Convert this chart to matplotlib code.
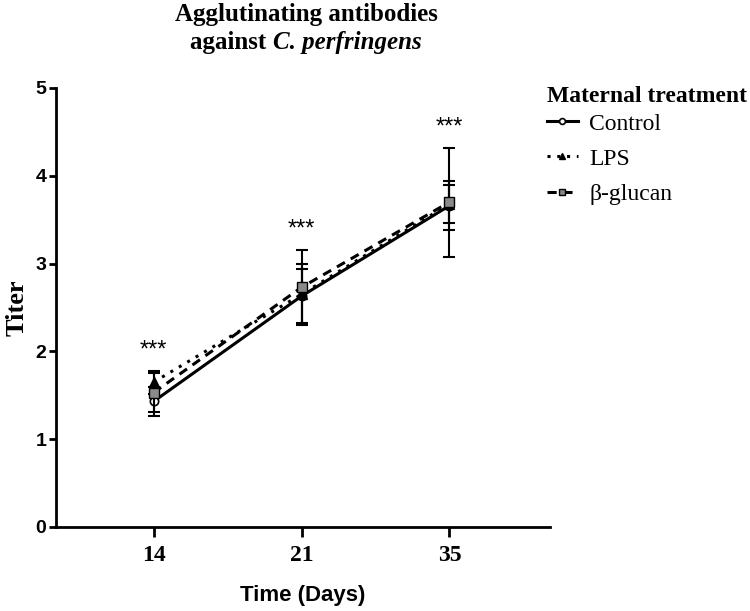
import matplotlib
matplotlib.use("Agg")
import matplotlib.pyplot as plt
import numpy as np

# %% data
days = ["14", "21", "35"]
groups = ["Control", "LPS", "β-glucan"]
control_mean = [1.43, 2.63, 3.66]
control_sd = [0.17, 0.31, 0.28]
lps_mean = [1.65, 2.65, 3.68]
lps_sd = [0.13, 0.34, 0.22]
glucan_mean = [1.53, 2.73, 3.70]
glucan_sd = [0.22, 0.43, 0.62]
signif = ["***", "***", "***"]

serif = "Liberation Serif"
sans = "Liberation Sans"

# %% figure
fig = plt.figure(figsize=(7.5, 6.11), dpi=100)
ax = fig.add_axes([0.0747, 0.1375, 0.6587, 0.7185])

x = np.arange(len(days))
styles = [
    dict(ls="-", marker="o", mfc="white", mec="black", ms=6, mew=1.2),
    dict(ls=(0, (1, 2.2)), marker="^", mfc="black", mec="black", ms=7),
    dict(ls=(0, (3, 2.2)), marker="s", mfc="#8a8a8a", mec="black", ms=7, mew=1.0),
]
means = [control_mean, lps_mean, glucan_mean]
sds = [control_sd, lps_sd, glucan_sd]

for m, s, st, lab in zip(means, sds, styles, groups):
    ax.errorbar(x, m, yerr=s, fmt="none", ecolor="black", elinewidth=1.5,
                capsize=4, capthick=1.5)
    ax.plot(x, m, color="black", lw=2.2, label=lab, **st)

tops = np.max(np.array(means) + np.array(sds), axis=0)
for xi, t, s in zip(x, tops, signif):
    ax.text(xi, t + 0.1, s, ha="center", va="bottom", fontsize=17,
            family=sans)

ax.set_xlim(-0.66, 2.68)
ax.set_ylim(0, 5)
ax.set_xticks(x)
ax.set_xticklabels(days, family=serif, fontweight="bold", fontsize=17)
ax.set_yticks(range(6))
ax.set_yticklabels([str(i) for i in range(6)], family=sans, fontweight="bold",
                   fontsize=14)
for side in ["top", "right"]:
    ax.spines[side].set_visible(False)
for side in ["left", "bottom"]:
    ax.spines[side].set_linewidth(2)
ax.tick_params(axis="x", length=7, width=2, pad=6)
ax.tick_params(axis="y", length=5, width=2, pad=2)

ax.set_ylabel("Titer", family=serif, fontweight="bold", fontsize=19, labelpad=5)
ax.set_xlabel("Time (Days)", family=sans, fontweight="bold", fontsize=16, labelpad=14)

# legend: title as its own text, entries show line + marker only
fig.text(547 / 750, 1 - 96 / 611, "Maternal treatment", ha="left", va="center",
         family=serif, fontweight="bold", fontsize=17)
leg_handles = []
for st in styles:
    st2 = dict(st)
    st2["ms"] = st["ms"] * 0.7
    leg_handles.append(plt.Line2D([], [], color="black", lw=2.2, **st2))
ax.legend(leg_handles, groups, loc="upper left",
          bbox_to_anchor=(547 / 750, 1 - 113 / 611),
          bbox_transform=fig.transFigure, frameon=False,
          prop=dict(family=serif, size=17),
          handlelength=1.3, handletextpad=0.5, labelspacing=0.58,
          borderpad=0, borderaxespad=0)

# title, with italic species name
fig.text(0.408, 1 - 15 / 611, "Agglutinating antibodies", ha="center", va="center",
         family=serif, fontweight="bold", fontsize=18)
fig.canvas.draw()
r = fig.canvas.get_renderer()
t1 = fig.text(0, 1 - 42 / 611, "against ", va="center", family=serif,
              fontweight="bold", fontsize=18)
t2 = fig.text(0, 1 - 42 / 611, "C. perfringens", va="center", family=serif,
              fontweight="bold", style="italic", fontsize=18)
w1 = t1.get_window_extent(r).width
w2 = t2.get_window_extent(r).width
x0 = 0.408 * 750 - (w1 + w2) / 2
t1.set_x(x0 / 750)
t2.set_x((x0 + w1) / 750)

fig.savefig("out.png", dpi=100)
